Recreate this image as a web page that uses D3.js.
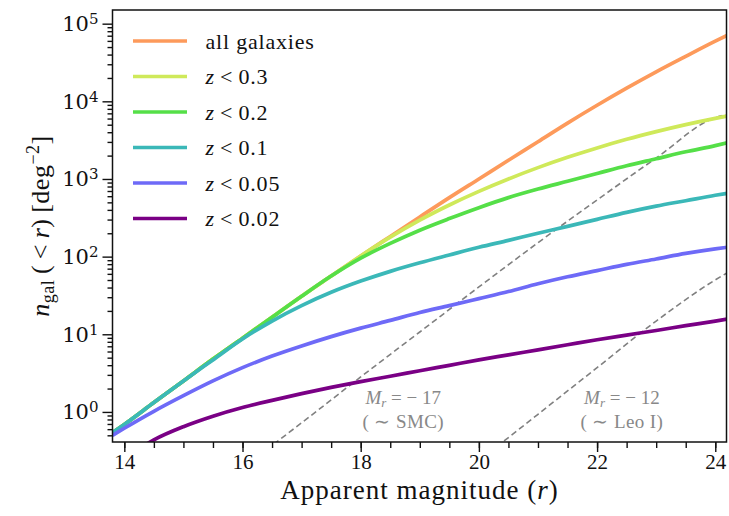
<!DOCTYPE html>
<html>
<head>
<meta charset="utf-8">
<script src="https://cdn.jsdelivr.net/npm/d3@7"></script>
<style>
body { margin: 0; background: #fff; }
svg text { font-family: "Liberation Serif", "Times New Roman", serif; fill: #111; }
svg text.math { font-family: "DejaVu Serif", "Liberation Serif", serif; }
</style>
</head>
<body>
<svg id="svgMain" width="729" height="516"></svg>
<script>
// apparent magnitude grid the curves were read at
const mags = [13.8, 14, 14.5, 15, 15.5, 16, 16.5, 17, 17.5, 18, 18.5, 19, 19.5, 20, 20.5, 21, 21.5, 22, 22.5, 23, 23.5, 24, 24.2];

// n_gal(<r) [deg^-2]
const nAll  = [0.54, 0.69, 1.32, 2.51, 4.79, 8.91, 16.6, 30.9, 56.2, 102, 182, 324, 575, 1000, 1740, 3020, 5250, 8910, 14800, 24000, 38000, 59600, 70800];
const nZ030 = [0.54, 0.69, 1.32, 2.51, 4.79, 8.91, 16.6, 30.9, 56.2, 102, 178, 295, 462, 692, 1000, 1400, 1900, 2510, 3240, 4070, 5010, 6030, 6460];
const nZ020 = [0.54, 0.69, 1.32, 2.51, 4.79, 8.91, 16.6, 30.9, 56.2, 95.5, 148, 219, 309, 427, 575, 741, 933, 1175, 1480, 1820, 2240, 2690, 2920];
const nZ010 = [0.54, 0.69, 1.32, 2.51, 4.68, 8.71, 14.8, 23.4, 34.7, 48.4, 64.6, 83.2, 105, 132, 162, 200, 245, 302, 372, 447, 525, 617, 653];
const nZ005 = [0.50, 0.617, 1.02, 1.62, 2.51, 3.72, 5.25, 7.08, 9.33, 12.0, 15.1, 19.1, 23.4, 28.8, 35.5, 44.7, 55.0, 66.1, 79.4, 93.3, 110, 126, 132];
const nZ002 = [0.20, 0.251, 0.437, 0.646, 0.881, 1.14, 1.41, 1.72, 2.07, 2.46, 2.88, 3.39, 3.98, 4.68, 5.43, 6.31, 7.33, 8.51, 9.77, 11.2, 12.9, 14.8, 15.7];

const seriesValues = [nAll, nZ030, nZ020, nZ010, nZ005, nZ002];
const seriesCuts = [null, "0.3", "0.2", "0.1", "0.05", "0.02"];
const seriesColors = ["#fd9a5b", "#cfe95a", "#55df48", "#3bb8b8", "#6e6af7", "#7a0085"];

// reference lines for fixed absolute magnitude
const smcMags = [16.4, 17, 18, 19, 20, 21, 22, 23, 24, 24.2];
const smcN    = [0.324, 0.724, 2.82, 10.7, 40.7, 151, 537, 1860, 6170, 6760];
const leoMags = [20.3, 21, 22, 23, 24, 24.2];
const leoN    = [0.355, 0.933, 3.72, 14.8, 50.1, 61.7];

const xMajorTicks = [14, 16, 18, 20, 22, 24];
const yMajorTicks = [1, 10, 100, 1000, 10000, 100000];

let svgMain = d3.select("#svgMain");
var margin = {top: 10, right: 2.5, bottom: 74, left: 112.5};
var plotWidth = 729 - margin.left - margin.right;
var plotHeight = 516 - margin.top - margin.bottom;

const xScale = d3.scaleLinear().domain([13.8, 24.19]).range([0, plotWidth]);
const yScale = d3.scaleLog().domain([0.41, 1.5e5]).range([plotHeight, 0]);

const plot = svgMain.append("g")
    .attr("transform", "translate(" + margin.left + "," + margin.top + ")");

svgMain.append("defs").append("clipPath").attr("id", "clip")
    .append("rect").attr("width", plotWidth).attr("height", plotHeight);

const lineGen = d3.line()
    .x(d => xScale(d[0]))
    .y(d => yScale(d[1]))
    .curve(d3.curveMonotoneX);

const lines = plot.append("g").attr("clip-path", "url(#clip)");

// dashed lines
[[smcMags, smcN], [leoMags, leoN]].forEach(function (s) {
    lines.append("path")
        .attr("d", lineGen(d3.zip(s[0], s[1])))
        .attr("fill", "none")
        .attr("stroke", "#808080")
        .attr("stroke-width", 1.6)
        .attr("stroke-dasharray", "6,3.5");
});

seriesValues.forEach(function (vals, i) {
    lines.append("path")
        .attr("d", lineGen(d3.zip(mags, vals)))
        .attr("fill", "none")
        .attr("stroke", seriesColors[i])
        .attr("stroke-width", 3.7);
});

// annotations
function annot(m, n1, n2, absMag, name) {
    let t = plot.append("text")
        .attr("x", xScale(m)).attr("y", yScale(n1))
        .attr("text-anchor", "middle")
        .style("font-size", "19px");
    t.append("tspan").attr("font-style", "italic").style("fill", "#888").text("M");
    t.append("tspan").attr("font-style", "italic").style("fill", "#888")
        .style("font-size", "13px").attr("dy", 3).text("r");
    t.append("tspan").style("fill", "#888").attr("dy", -3).text(" = \u2212 " + absMag);
    plot.append("text")
        .attr("x", xScale(m)).attr("y", yScale(n2))
        .attr("text-anchor", "middle")
        .style("font-size", "19px")
        .style("letter-spacing", "0.4px")
        .style("fill", "#888")
        .text("( \u223C " + name + ")");
}
annot(18.72, 1.26, 0.62, "17", "SMC");
annot(22.42, 1.26, 0.62, "12", "Leo I");

// axes
let xMinor = d3.axisBottom(xScale).tickValues(xScale.ticks(20)).tickSize(6).tickFormat("");
plot.append("g").attr("transform", "translate(0," + plotHeight + ")").call(xMinor);
let xAxis = d3.axisBottom(xScale).tickValues(xMajorTicks).tickSize(10).tickPadding(2).tickFormat(d3.format("d"));
plot.append("g").attr("class", "x axis").attr("transform", "translate(0," + plotHeight + ")")
    .call(xAxis).style("font-size", "21px");

let yMinor = d3.axisLeft(yScale).tickValues(yScale.ticks().filter(d => !yMajorTicks.includes(d))).tickSize(5).tickFormat("");
plot.append("g").call(yMinor);
let yAxis = d3.axisLeft(yScale).tickValues(yMajorTicks).tickSize(10).tickPadding(4).tickFormat("");
let yAxisG = plot.append("g").attr("class", "y axis").call(yAxis).style("font-size", "21px");
yAxisG.selectAll(".tick text").attr("class", "math").each(function (d) {
    let t = d3.select(this);
    t.append("tspan").text("10");
    t.append("tspan").attr("dy", "-0.45em").style("font-size", "15px").text(Math.round(Math.log10(d)));
});

plot.selectAll(".domain").remove();
plot.selectAll("g").attr("font-family", null);
plot.selectAll(".tick line").attr("stroke", "#111").attr("stroke-width", 1.4);
plot.selectAll(".tick text").style("fill", "#111");

plot.append("rect")
    .attr("width", plotWidth).attr("height", plotHeight)
    .attr("fill", "none").attr("stroke", "#111").attr("stroke-width", 1.5);

// legend
const legend = plot.append("g");
seriesCuts.forEach(function (cut, i) {
    let yy = 31 + i * 35.5;
    legend.append("line")
        .attr("x1", 20.5).attr("x2", 74.5).attr("y1", yy).attr("y2", yy)
        .attr("stroke", seriesColors[i]).attr("stroke-width", 3.7);
    let t = legend.append("text").attr("x", 93).attr("y", yy + 7.5)
        .style("font-size", "22px").style("letter-spacing", "0.8px");
    if (cut === null) {
        t.text("all galaxies");
    } else {
        t.append("tspan").attr("font-style", "italic").text("z");
        t.append("tspan").text("\u2009<\u2009" + cut);
    }
});

// x label
let xl = svgMain.append("text")
    .attr("x", margin.left + plotWidth / 2)
    .attr("y", 499)
    .attr("text-anchor", "middle")
    .style("font-size", "27px")
    .style("letter-spacing", "1px");
xl.append("tspan").text("Apparent magnitude (");
xl.append("tspan").attr("font-style", "italic").text("r");
xl.append("tspan").text(")");

// y label
let yl = svgMain.append("text")
    .attr("transform", "translate(49," + (margin.top + plotHeight / 2) + ") rotate(-90)")
    .attr("text-anchor", "middle")
    .style("font-size", "26px")
    .style("letter-spacing", "0.5px");
yl.append("tspan").attr("font-style", "italic").text("n");
yl.append("tspan").attr("dy", 5).style("font-size", "18px").text("gal");
yl.append("tspan").attr("dy", -5).text("\u2009(\u2009<\u2009");
yl.append("tspan").attr("font-style", "italic").text("r");
yl.append("tspan").text(")\u2009[deg");
yl.append("tspan").attr("dy", -10).style("font-size", "18px").text("\u22122");
yl.append("tspan").attr("dy", 10).text("]");
</script>
</body>
</html>
